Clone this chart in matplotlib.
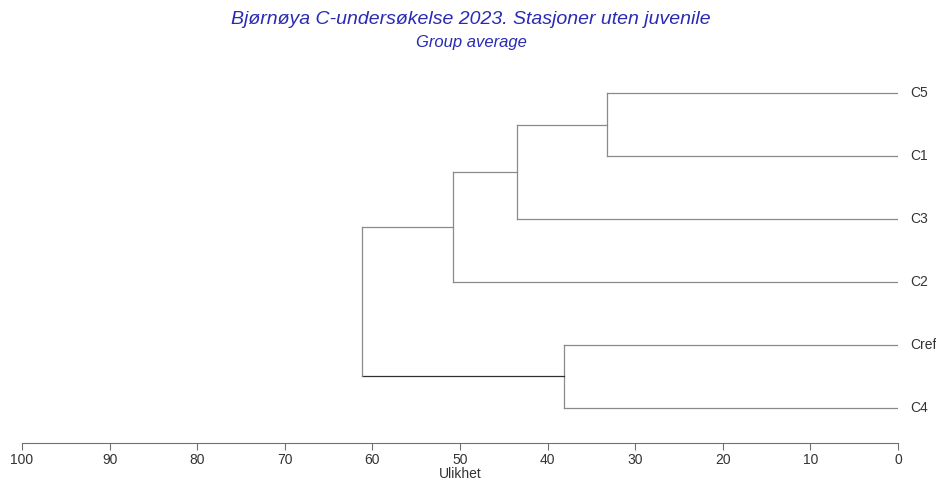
import matplotlib.pyplot as plt
import numpy as np

plt.rcParams['font.family'] = ['Liberation Sans', 'DejaVu Sans']

# leaves, top to bottom
leaves = ['C5', 'C1', 'C3', 'C2', 'Cref', 'C4']
# merges: (left, right, dissimilarity)
merges = [
    ('C5', 'C1', 33.2),
    ('A', 'C3', 43.5),
    ('B', 'C2', 50.8),
    ('Cref', 'C4', 38.1),
    ('C', 'D', 61.2),
]
merge_names = ['A', 'B', 'C', 'D', 'root']
ticks = [100, 90, 80, 70, 60, 50, 40, 30, 20, 10, 0]

line_col = '#8a8a8a'
blue = '#2a2ab4'

fig = plt.figure(figsize=(9.37, 4.82), dpi=100)
W, H = 937, 482
ax = fig.add_axes([22 / W, (H - 443) / H, (898 - 22) / W, (443 - 60) / H])

pos = {name: (0.0, float(len(leaves) - 1 - i)) for i, name in enumerate(leaves)}
for name, (a, b, h) in zip(merge_names, merges):
    xa, ya = pos[a]
    xb, yb = pos[b]
    c = '#303030' if name == 'root' else line_col
    ax.plot([xa, h], [ya, ya], color=line_col, lw=0.9)
    ax.plot([xb, h], [yb, yb], color=c, lw=0.9)
    ax.plot([h, h], [ya, yb], color=line_col, lw=0.9)
    pos[name] = (h, (ya + yb) / 2)

for i, name in enumerate(leaves):
    ax.text(-1.4, pos[name][1], name, ha='left', va='center', fontsize=10, color='#333333')

ax.set_xlim(100, 0)
ax.set_ylim(-0.561, 5.53)
ax.set_xticks(ticks)
ax.set_xticklabels([str(t) for t in ticks])
ax.set_yticks([])
for s in ['top', 'right', 'left']:
    ax.spines[s].set_visible(False)
ax.spines['bottom'].set_color('#707070')
ax.tick_params(axis='x', length=5, color='#707070', labelsize=10, labelcolor='#333333', pad=2)
ax.set_xlabel('Ulikhet', fontsize=10, color='#333333', labelpad=0)

fig.text(471 / W, 1 - 20 / H, 'Bjørnøya C-undersøkelse 2023. Stasjoner uten juvenile',
         ha='center', va='center', fontsize=14, style='italic', color=blue)
fig.text(471 / W, 1 - 43 / H, 'Group average',
         ha='center', va='center', fontsize=12, style='italic', color=blue)

fig.savefig('out.png', dpi=100)
